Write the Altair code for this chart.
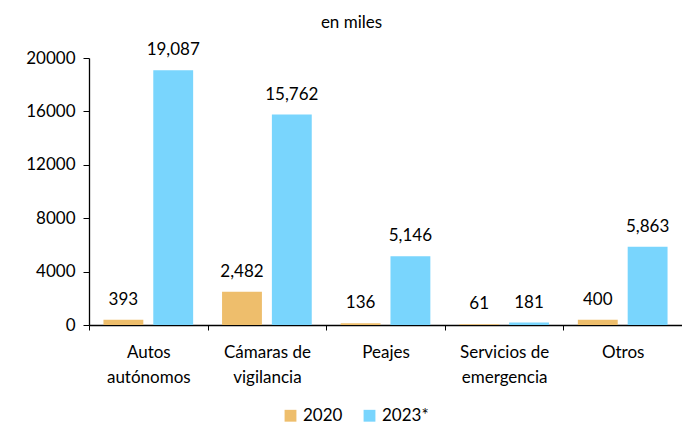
import altair as alt
import pandas as pd

categories = ["Autos\nautónomos", "Cámaras de\nvigilancia", "Peajes", "Servicios de\nemergencia", "Otros"]
series = ["2020", "2023*"]
values_2020 = [393, 2482, 136, 61, 400]
values_2023 = [19087, 15762, 5146, 181, 5863]

rows = []
for c, a, b in zip(categories, values_2020, values_2023):
    rows.append({"cat": c, "serie": "2020", "valor": a})
    rows.append({"cat": c, "serie": "2023*", "valor": b})
df = pd.DataFrame(rows)

FONT = "Lato"
colors = ["#EEBE6C", "#79D5FD"]

x = alt.X("cat:N", sort=categories, title=None,
          scale=alt.Scale(paddingInner=0, paddingOuter=0),
          axis=alt.Axis(labelAngle=0, labelExpr="split(datum.label, '\\n')",
                        labelFontSize=17, labelFont=FONT, labelColor="black",
                        labelPadding=14, labelLineHeight=25,
                        domainColor="black", tickColor="black", tickSize=5,
                        tickBand="extent", tickWidth=1, domainWidth=1.3))
xo = alt.XOffset("serie:N", sort=series, scale=alt.Scale(paddingInner=0.2, paddingOuter=0.29))

base = alt.Chart(df)

bars = base.mark_bar().encode(
    x=x,
    xOffset=xo,
    y=alt.Y("valor:Q", title=None,
            scale=alt.Scale(domain=[0, 20000]),
            axis=alt.Axis(values=[0, 4000, 8000, 12000, 16000, 20000], format="d",
                          grid=False, labelFontSize=17, labelFont=FONT, labelColor="black",
                          domainColor="black", tickColor="black", tickSize=6,
                          labelPadding=8, domainWidth=1.3)),
    color=alt.Color("serie:N", sort=series, title=None,
                    scale=alt.Scale(domain=series, range=colors),
                    legend=alt.Legend(orient="none", direction="horizontal",
                                      legendX=193, legendY=349,
                                      symbolType="square", symbolSize=140,
                                      symbolStrokeWidth=0,
                                      labelFontSize=17, labelFont=FONT, labelColor="black",
                                      columnPadding=18, labelOffset=4)),
)

labels = base.mark_text(dy=-20, fontSize=17, font=FONT, color="black").encode(
    x=alt.X("cat:N", sort=categories),
    xOffset=xo,
    y="valor:Q",
    text=alt.Text("valor:Q", format=","),
)

chart = (bars + labels).properties(
    width=593, height=267,
    title=alt.TitleParams("en miles", fontSize=17, font=FONT, fontWeight="normal",
                          color="black", offset=9, dx=-34),
    autosize=alt.AutoSizeParams(type="none"),
    padding={"left": 81, "top": 50, "right": 0, "bottom": 99},
).configure_view(stroke=None)

chart.save("out.html", embed_options={"renderer": "svg", "actions": False})
